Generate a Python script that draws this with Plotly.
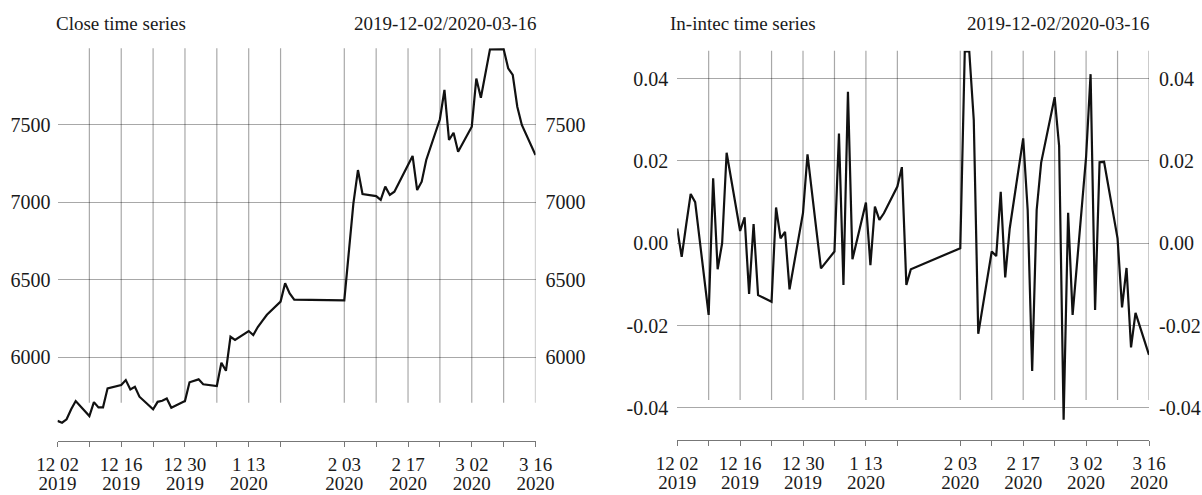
import plotly.graph_objects as go

dates = [
    "2019-12-02","2019-12-03","2019-12-04","2019-12-05","2019-12-06",
    "2019-12-09","2019-12-10","2019-12-11","2019-12-12","2019-12-13",
    "2019-12-16","2019-12-17","2019-12-18","2019-12-19","2019-12-20",
    "2019-12-23","2019-12-24","2019-12-25","2019-12-26","2019-12-27",
    "2019-12-30","2019-12-31","2020-01-02","2020-01-03",
    "2020-01-06","2020-01-07","2020-01-08","2020-01-09","2020-01-10",
    "2020-01-13","2020-01-14","2020-01-15","2020-01-16","2020-01-17",
    "2020-01-20","2020-01-21","2020-01-22","2020-01-23",
    "2020-02-03","2020-02-04","2020-02-05","2020-02-06","2020-02-07",
    "2020-02-10","2020-02-11","2020-02-12","2020-02-13","2020-02-14",
    "2020-02-17","2020-02-18","2020-02-19","2020-02-20","2020-02-21",
    "2020-02-24","2020-02-25","2020-02-26","2020-02-27","2020-02-28",
    "2020-03-02","2020-03-03","2020-03-04","2020-03-05","2020-03-06",
    "2020-03-09","2020-03-10","2020-03-11","2020-03-12","2020-03-13",
    "2020-03-16",
]

close = [
    5590, 5578, 5600, 5665, 5718,
    5621, 5711, 5677, 5677, 5800,
    5821, 5853, 5793, 5810, 5746,
    5665, 5713, 5720, 5735, 5675,
    5718, 5839, 5858, 5826,
    5815, 5965, 5913, 6133, 6112,
    6170, 6144, 6196, 6235, 6275,
    6360, 6478, 6413, 6373,
    6368, 6680, 6994, 7209, 7054,
    7041, 7016, 7102, 7048, 7069,
    7245, 7300, 7080, 7134, 7274,
    7537, 7726, 7403, 7450, 7327,
    7489, 7800, 7676, 7830, 7988,
    7990, 7866, 7823, 7618, 7500,
    7306,
]

lnret = [
    0.0036, -0.0033, 0.0045, 0.0120, 0.0100,
    -0.0174, 0.0158, -0.0063, 0.0000, 0.0220,
    0.0030, 0.0063, -0.0123, 0.0047, -0.0126,
    -0.0142, 0.0087, 0.0012, 0.0028, -0.0112,
    0.0074, 0.0216, 0.0030, -0.0061,
    -0.0020, 0.0267, -0.0101, 0.0368, -0.0039,
    0.0099, -0.0053, 0.0089, 0.0057, 0.0073,
    0.0138, 0.0185, -0.0101, -0.0063,
    -0.0012, 0.0466, 0.0466, 0.0300, -0.0220,
    -0.0020, -0.0031, 0.0125, -0.0083, 0.0036,
    0.0255, 0.0081, -0.0310, 0.0081, 0.0196,
    0.0355, 0.0236, -0.0429, 0.0074, -0.0174,
    0.0210, 0.0411, -0.0162, 0.0197, 0.0198,
    0.0012, -0.0156, -0.0060, -0.0253, -0.0169,
    -0.0271,
]

tick_dates = ["2019-12-02","2019-12-09","2019-12-16","2019-12-23","2019-12-30",
              "2020-01-06","2020-01-13","2020-01-20","2020-02-03","2020-02-10",
              "2020-02-17","2020-02-24","2020-03-02","2020-03-09","2020-03-16"]
tick_md = ["12 02","","12 16","","12 30","","1 13","","2 03","","2 17","","3 02","","3 16"]
tick_year = ["2019","","2019","","2019","","2020","","2020","","2020","","2020","","2020"]

close_ticks = [6000, 6500, 7000, 7500]
close_tick_text = ["6000", "6500", "7000", "7500"]
ret_ticks = [-0.04, -0.02, 0.0, 0.02, 0.04]
ret_tick_text = ["-0.04", "-0.02", "0.00", "0.02", "0.04"]

titles_left = ("Close time series", "2019-12-02/2020-03-16")
titles_right = ("In-intec time series", "2019-12-02/2020-03-16")

FONT = "Liberation Serif, Times New Roman, serif"
W, H = 1202, 495
GRID = "rgba(0,0,0,0.34)"
TXT = "#1a1a1a"

fig = go.Figure()
# left panel
fig.add_trace(go.Scatter(x=dates, y=close, mode="lines", xaxis="x", yaxis="y",
                         line=dict(color="#111111", width=2.2), showlegend=False))
fig.add_trace(go.Scatter(x=dates, y=close, mode="lines", xaxis="x", yaxis="y3",
                         line=dict(color="rgba(0,0,0,0)", width=0), showlegend=False,
                         hoverinfo="skip"))
fig.add_trace(go.Scatter(x=dates, y=close, mode="lines", xaxis="x3", yaxis="y",
                         line=dict(color="rgba(0,0,0,0)", width=0), showlegend=False,
                         hoverinfo="skip"))
# right panel
fig.add_trace(go.Scatter(x=dates, y=lnret, mode="lines", xaxis="x2", yaxis="y2",
                         line=dict(color="#111111", width=2.2), showlegend=False))
fig.add_trace(go.Scatter(x=dates, y=lnret, mode="lines", xaxis="x2", yaxis="y4",
                         line=dict(color="rgba(0,0,0,0)", width=0), showlegend=False,
                         hoverinfo="skip"))
fig.add_trace(go.Scatter(x=dates, y=lnret, mode="lines", xaxis="x4", yaxis="y2",
                         line=dict(color="rgba(0,0,0,0)", width=0), showlegend=False,
                         hoverinfo="skip"))

xl = (57.5 / W, 535.5 / W)
xr = (677.2 / W, 1149.0 / W)
yl = (1 - 441.0 / H, 1 - 48.3 / H)
yr = (1 - 440.0 / H, 1 - 50.7 / H)

tickfont = dict(family=FONT, size=20, color=TXT)
xtickfont = dict(family=FONT, size=19, color=TXT)
xrange = [tick_dates[0], tick_dates[-1]]

xmain = dict(type="date", range=xrange, tickmode="array", tickvals=tick_dates,
             ticktext=tick_md, showgrid=False, zeroline=False, showline=True,
             linecolor="#777777", linewidth=1, ticks="outside", ticklen=5,
             tickcolor="#777777", tickfont=xtickfont, ticklabelstandoff=1,
             automargin=False)
xyear = dict(type="date", range=xrange, tickmode="array", tickvals=tick_dates,
             ticktext=tick_year, showgrid=False, zeroline=False, showline=False,
             ticks="", ticklen=0, tickfont=xtickfont, ticklabelstandoff=29, side="bottom",
             automargin=False)

ycommon = dict(showline=False, zeroline=False, ticks="", tickfont=tickfont, automargin=False)

fig.update_layout(
    width=W, height=H, margin=dict(l=0, r=0, t=0, b=0),
    paper_bgcolor="white", plot_bgcolor="white",
    xaxis=dict(domain=list(xl), anchor="y", **xmain),
    xaxis3=dict(overlaying="x", anchor="y", **xyear),
    xaxis2=dict(domain=list(xr), anchor="y2", **xmain),
    xaxis4=dict(overlaying="x2", anchor="y2", **xyear),
    yaxis=dict(domain=list(yl), anchor="x", range=[5460, 7995],
               tickmode="array", tickvals=close_ticks, ticktext=close_tick_text,
               showgrid=True, gridcolor=GRID, gridwidth=1.2,
               ticklabelstandoff=6, **ycommon),
    yaxis3=dict(overlaying="y", anchor="x", side="right", range=[5460, 7995],
                tickmode="array", tickvals=close_ticks, ticktext=close_tick_text,
                showgrid=False, ticklabelstandoff=9, **ycommon),
    yaxis2=dict(domain=list(yr), anchor="x2", range=[-0.0478, 0.0468],
                tickmode="array", tickvals=ret_ticks, ticktext=ret_tick_text,
                showgrid=True, gridcolor=GRID, gridwidth=1.2,
                ticklabelstandoff=8, **ycommon),
    yaxis4=dict(overlaying="y2", anchor="x2", side="right", range=[-0.0478, 0.0468],
                tickmode="array", tickvals=ret_ticks, ticktext=ret_tick_text,
                showgrid=False, ticklabelstandoff=9, **ycommon),
)

# vertical grid lines (all ticks except the first), stopping short of the axis
shapes = []
for d in tick_dates[1:]:
    shapes.append(dict(type="line", xref="x", yref="y domain", x0=d, x1=d,
                       y0=0.0975, y1=1, line=dict(color=GRID, width=1.2), layer="below"))
    shapes.append(dict(type="line", xref="x2", yref="y2 domain", x0=d, x1=d,
                       y0=0.1027, y1=1, line=dict(color=GRID, width=1.2), layer="below"))
fig.update_layout(shapes=shapes)

ty = 1 - 24 / H
ann = [
    dict(text=titles_left[0], x=54 / W, xanchor="left"),
    dict(text=titles_left[1], x=539 / W, xanchor="right"),
    dict(text=titles_right[0], x=668 / W, xanchor="left"),
    dict(text=titles_right[1], x=1152 / W, xanchor="right"),
]
for a in ann:
    fig.add_annotation(xref="paper", yref="paper", y=ty, yanchor="middle",
                       showarrow=False, font=dict(family=FONT, size=19, color=TXT), **a)

fig.write_html("out.html")
